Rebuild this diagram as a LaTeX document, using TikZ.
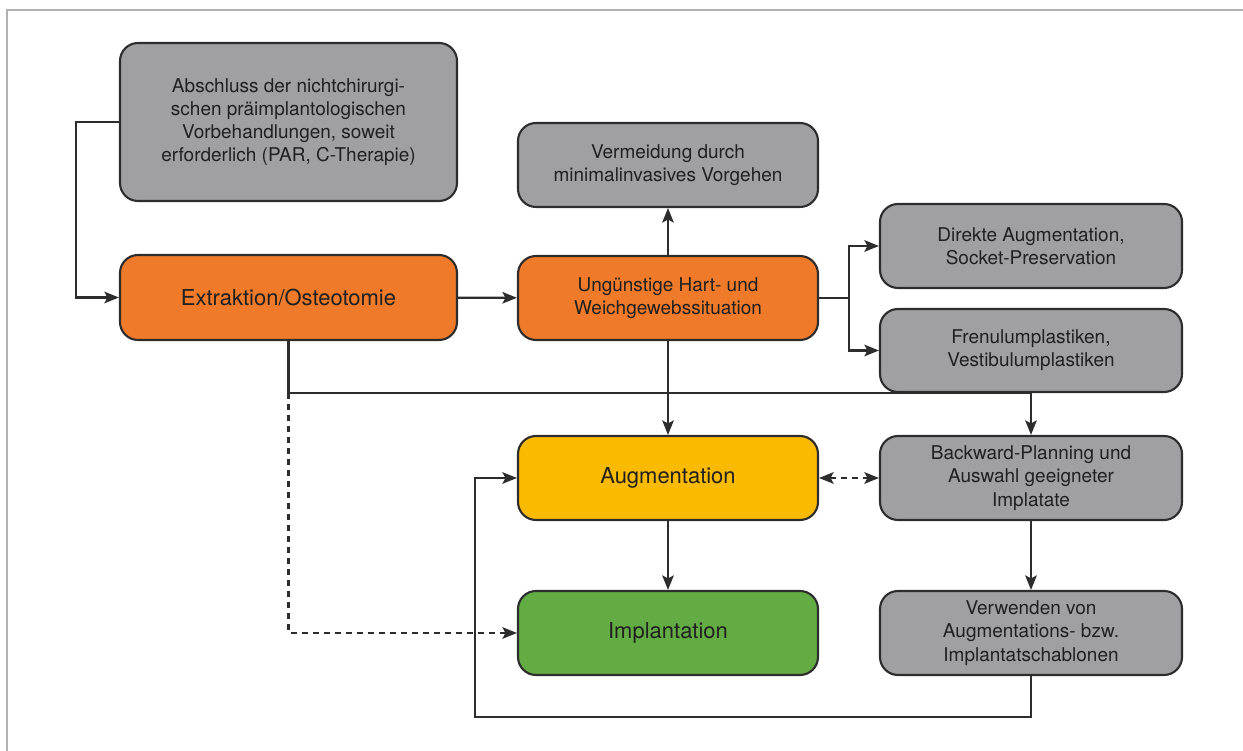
\documentclass[tikz,border=0pt]{standalone}
\usepackage{fontspec}
\setmainfont{TeX Gyre Heros}
\usetikzlibrary{arrows.meta}

\definecolor{rahmen}{RGB}{45,45,45}
\definecolor{schrift}{RGB}{32,32,32}
\definecolor{grau}{RGB}{160,160,163}
\definecolor{orangefarbe}{RGB}{238,122,42}
\definecolor{gelb}{RGB}{250,186,0}
\definecolor{gruen}{RGB}{99,172,68}

\begin{document}
\begin{tikzpicture}[
	knoten/.style={draw=rahmen, line width=1.2pt, rounded corners=0.36cm, align=center, text=schrift,
		minimum width=6cm, minimum height=1.68cm, inner sep=2pt, font=\fontsize{10.8}{13.2}\selectfont},
	grauknoten/.style={knoten, fill=grau},
	orangeknoten/.style={knoten, fill=orangefarbe},
	gross/.style={font=\fontsize{12.5}{15}\selectfont},
	pfeil/.style={draw=rahmen, line width=1.3pt, -{Stealth[length=2.9mm, width=2.3mm, inset=0.6mm]}},
	doppelpfeil/.style={draw=rahmen, line width=1.3pt, {Stealth[length=2.9mm, width=2.3mm, inset=0.6mm]}-{Stealth[length=2.9mm, width=2.3mm, inset=0.6mm]}},
	gestrichelt/.style={dash pattern=on 1.2mm off 1mm}
	]
	\useasboundingbox (0,0) rectangle (24.86,15.02);
	\draw[gray!60, line width=0.8pt] (0.14,0) -- (0.14,14.82) -- (24.86,14.82);
	
	\node[grauknoten, minimum width=6.74cm, minimum height=3.16cm] (abschluss) at (5.77,12.58) {Abschluss der nichtchirurgi-\\schen präimplantologischen\\Vorbehandlungen, soweit\\erforderlich (PAR, C-Therapie)};
	\node[orangeknoten, gross, minimum width=6.74cm, minimum height=1.7cm] (extraktion) at (5.77,9.07) {Extraktion/Osteotomie};
	\node[orangeknoten] (ungunst) at (13.36,9.06) {Ungünstige Hart- und\\Weichgewebssituation};
	\node[grauknoten] (vermeidung) at (13.36,11.72) {Vermeidung durch\\minimalinvasives Vorgehen};
	\node[grauknoten, minimum width=6.04cm] (direkt) at (20.62,10.1) {Direkte Augmentation,\\Socket-Preservation};
	\node[grauknoten, minimum width=6.04cm, minimum height=1.66cm] (frenulum) at (20.62,8.01) {Frenulumplastiken,\\Vestibulumplastiken};
	\node[knoten, gross, fill=gelb] (augmentation) at (13.36,5.46) {Augmentation};
	\node[grauknoten, minimum width=6.04cm] (backward) at (20.62,5.46) {Backward-Planning und\\Auswahl geeigneter\\Implatate};
	\node[knoten, gross, fill=gruen] (implantation) at (13.36,2.36) {Implantation};
	\node[grauknoten, minimum width=6.04cm] (verwenden) at (20.62,2.36) {Verwenden von\\Augmentations- bzw.\\Implantatschablonen};
	
	\coordinate (quer) at (0,7.16);
	\coordinate (gabel) at (16.98,9.06);
	\coordinate (unten) at (9.5,0.68);
	
	\draw[pfeil] (abschluss.west) -- ++(-0.86,0) |- (extraktion.west);
	\draw[pfeil] (extraktion) -- (ungunst);
	\draw[pfeil] (ungunst) -- (vermeidung);
	\draw[draw=rahmen, line width=1.3pt] (ungunst.east) -- (gabel);
	\draw[pfeil] (gabel) |- (direkt.west);
	\draw[pfeil] (gabel) |- (frenulum.west);
	\draw[pfeil] (extraktion.south) -- (extraktion.south |- quer) -| (backward.north);
	\draw[pfeil, gestrichelt] (extraktion.south |- quer) |- (implantation.west);
	\draw[pfeil] (ungunst) -- (augmentation);
	\draw[pfeil] (augmentation) -- (implantation);
	\draw[doppelpfeil, gestrichelt] (augmentation) -- (backward);
	\draw[pfeil] (backward) -- (verwenden);
	\draw[pfeil] (verwenden.south) |- (unten) |- (augmentation.west);
\end{tikzpicture}
\end{document}
